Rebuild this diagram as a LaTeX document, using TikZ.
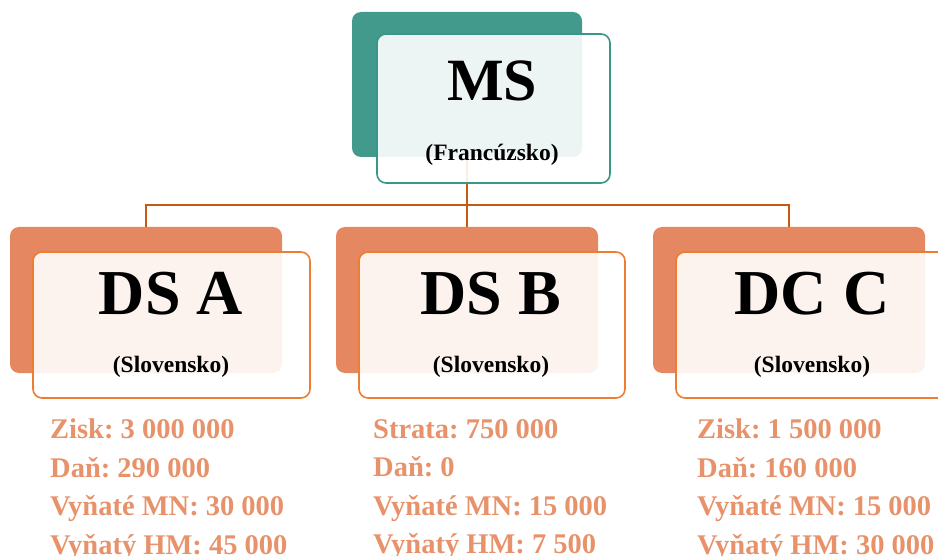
\documentclass[tikz,border=0pt]{standalone}
\usepackage{fontspec}
\setmainfont{Liberation Serif}
\frenchspacing
\definecolor{tealback}{RGB}{66,154,140}
\definecolor{tealline}{RGB}{58,150,136}
\definecolor{orangeback}{RGB}{229,135,96}
\definecolor{orangeline}{RGB}{237,125,49}
\definecolor{orangetext}{RGB}{231,146,106}
\definecolor{linkline}{RGB}{197,90,17}
\begin{document}
\begin{tikzpicture}[x=1pt,y=-1pt,
  backbox/.style={rounded corners=9pt, inner sep=0pt, minimum height=146pt},
  frontbox/.style={rounded corners=9pt, inner sep=0pt, minimum height=146pt,
    fill=white, fill opacity=0.9, line width=1.6pt},
  link/.style={draw=linkline, line width=1.8pt},
  bigname/.style={font=\bfseries\fontsize{64}{64}\selectfont, inner sep=0pt},
  country/.style={font=\bfseries\fontsize{23.5}{23.5}\selectfont, inner sep=0pt},
  figures/.style={font=\bfseries\fontsize{28.5}{38.5}\selectfont, text=orangetext,
    align=left, anchor=north west, inner sep=0pt}]
\useasboundingbox (0,0) rectangle (938,556);

\coordinate (bus) at (467,205);

\node[backbox, fill=tealback, minimum width=230pt, minimum height=145pt] (msback) at (467,84.5) {};
\node[backbox, fill=orangeback, minimum width=272pt] (dsaback) at (146,300) {};
\node[backbox, fill=orangeback, minimum width=262pt] (dsbback) at (467,300) {};
\node[backbox, fill=orangeback, minimum width=272pt] (dccback) at (789,300) {};

\draw[link] (msback.south) -- (bus);
\draw[link] (dsaback.north) |- (bus) -| (dccback.north);
\draw[link] (bus) -- (dsbback.north);

\node[frontbox, draw=tealline, minimum width=233pt, minimum height=149pt] (msfront) at (493.5,108.5) {};
\node[frontbox, draw=orangeline, minimum width=277pt] (dsafront) at (171.5,325) {};
\node[frontbox, draw=orangeline, minimum width=266pt] (dsbfront) at (492,325) {};
\node[frontbox, draw=orangeline, minimum width=272pt] (dccfront) at (812,325) {};

\node[bigname, font=\bfseries\fontsize{60}{60}\selectfont] (msname) at (492,81) {MS};
\node[country] (msland) at (492,155) {(Francúzsko)};
\node[bigname] (dsaname) at (171,294) {DS A};
\node[country] (dsaland) at (171,367) {(Slovensko)};
\node[bigname] (dsbname) at (491,294) {DS B};
\node[country] (dsbland) at (491,367) {(Slovensko)};
\node[bigname] (dccname) at (812,294) {DC C};
\node[country] (dccland) at (812,367) {(Slovensko)};

\node[figures] (dsalist) at (50,419) {Zisk: 3 000 000\\Daň: 290 000\\Vyňaté MN: 30 000\\Vyňatý HM: 45 000};
\node[figures] (dsblist) at (373,419) {Strata: 750 000\\Daň: 0\\Vyňaté MN: 15 000\\Vyňatý HM: 7 500};
\node[figures] (dcclist) at (697,419) {Zisk: 1 500 000\\Daň: 160 000\\Vyňaté MN: 15 000\\Vyňatý HM: 30 000};

\end{tikzpicture}
\end{document}
